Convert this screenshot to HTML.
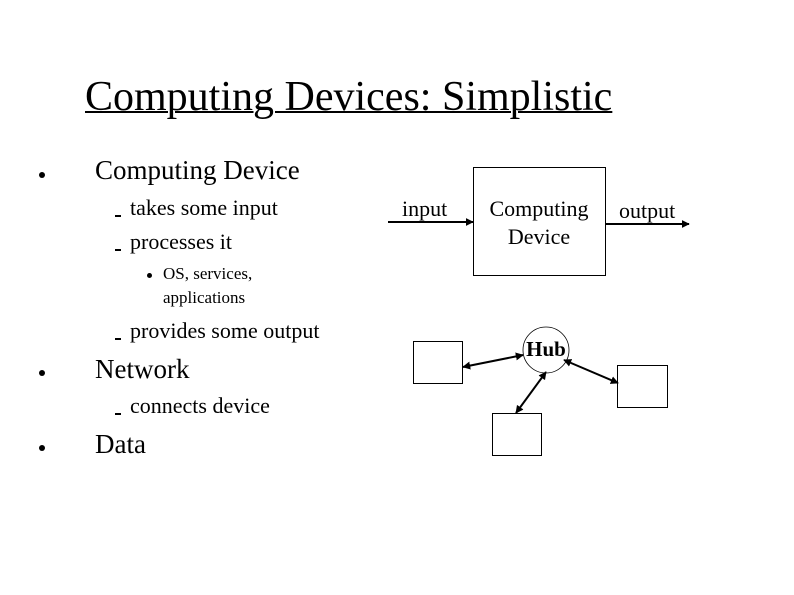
<!DOCTYPE html>
<html><head><style>
body{margin:0;background:#fff;}
.p{position:relative;width:794px;height:595px;overflow:hidden;font-family:"Liberation Serif",serif;color:#000;}
.t{position:absolute;white-space:nowrap;line-height:1;}
.d{position:absolute;width:6px;height:6px;border-radius:50%;background:#000;}
.s{position:absolute;width:6px;height:1.5px;background:#000;}
</style></head><body><div class="p">
<div class="t" style="left:85px;top:76px;font-size:42px;text-decoration:underline;text-decoration-thickness:2px;">Computing Devices: Simplistic</div>

<div class="d" style="left:39px;top:172px"></div>
<div class="t" style="left:95px;top:157px;font-size:27px">Computing Device</div>
<div class="s" style="left:115px;top:215px"></div>
<div class="t" style="left:130px;top:197px;font-size:22px">takes some input</div>
<div class="s" style="left:115px;top:249px"></div>
<div class="t" style="left:130px;top:231px;font-size:22px">processes it</div>
<div class="d" style="left:147px;top:273px;width:5px;height:5px"></div>
<div class="t" style="left:163px;top:265px;font-size:17px">OS, services,</div>
<div class="t" style="left:163px;top:289px;font-size:17px">applications</div>
<div class="s" style="left:115px;top:338px"></div>
<div class="t" style="left:130px;top:320px;font-size:22px">provides some output</div>
<div class="d" style="left:39px;top:370px"></div>
<div class="t" style="left:95px;top:356px;font-size:27px">Network</div>
<div class="s" style="left:115px;top:413px"></div>
<div class="t" style="left:130px;top:395px;font-size:22px">connects device</div>
<div class="d" style="left:39px;top:445px"></div>
<div class="t" style="left:95px;top:431px;font-size:27px">Data</div>

<svg width="794" height="595" style="position:absolute;left:0;top:0">
<defs><marker id="a" viewBox="0 0 10 10" refX="9" refY="5" markerWidth="4" markerHeight="4" orient="auto-start-reverse"><path d="M0,0L10,5L0,10z" fill="#000"/></marker></defs>
<g fill="none" stroke="#000">
<rect x="473.5" y="167.5" width="132" height="108" stroke-width="1"/>
<rect x="413.5" y="341.5" width="49" height="42"/>
<rect x="617.5" y="365.5" width="50" height="42"/>
<rect x="492.5" y="413.5" width="49" height="42"/>
<circle cx="546" cy="350" r="23" stroke-width="0.8"/>
<g stroke-width="2">
<line x1="388" y1="222" x2="473" y2="222" marker-end="url(#a)"/>
<line x1="605" y1="224" x2="689" y2="224" marker-end="url(#a)"/>
<line x1="463" y1="367" x2="523" y2="355" marker-start="url(#a)" marker-end="url(#a)"/>
<line x1="516" y1="413" x2="546" y2="372" marker-start="url(#a)" marker-end="url(#a)"/>
<line x1="564" y1="360" x2="618" y2="383" marker-start="url(#a)" marker-end="url(#a)"/>
</g></g>
<g font-family="Liberation Serif,serif" font-size="22" fill="#000">
<text x="402" y="216">input</text>
<text x="539" y="216" text-anchor="middle">Computing</text>
<text x="539" y="244" text-anchor="middle">Device</text>
<text x="619" y="218">output</text>
<text x="546" y="356" text-anchor="middle" font-weight="bold" font-size="21">Hub</text>
</g>
</svg>
</div></body></html>
